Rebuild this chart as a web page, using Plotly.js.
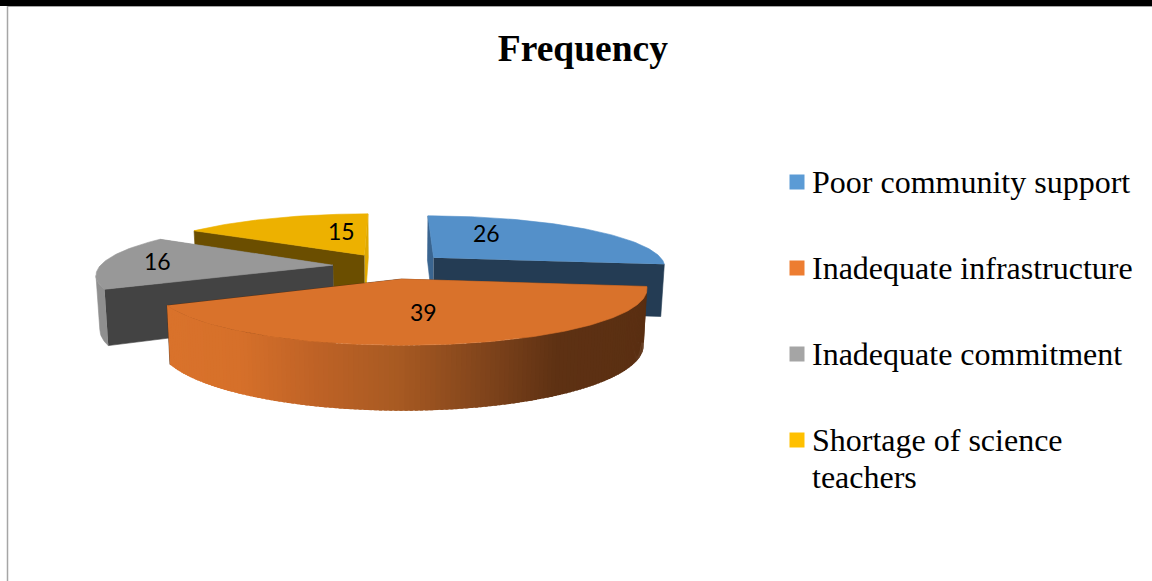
<!DOCTYPE html>
<html>
<head>
<meta charset="utf-8">
<script src="https://cdn.plot.ly/plotly-3.0.1.min.js"></script>
<style>html,body{margin:0;padding:0;background:#fff}#chart{width:1152px;height:581px}</style>
</head>
<body>
<div id="chart"></div>
<script>
// Survey results
const categories = ["Poor community support", "Inadequate infrastructure", "Inadequate commitment", "Shortage of science<br>teachers"];
const values = [26, 39, 16, 15];

// Surface colours per slice
const topColors   = ["#5490c9", "#d9722b", "#989898", "#edb100"];
const startCutColors = ["#3a6590", "#5c3012", "#434343", "#6b4e00"];
const endCutColors   = ["#243c54", "#5c3012", "#8f8f8f", "#e0a900"];
const rimColors   = ["#2f5378", "#d9722b", "#8f8f8f", "#b88a00"];
const swatchColors = ["#5b9bd5", "#ed7d31", "#a5a5a5", "#ffc000"];
// Shading across the front wall of the large slice: [screen x, r, g, b]
const wallShade = [[170,217,114,43],[240,214,112,42],[320,190,98,38],[400,168,90,34],[480,132,70,28],[560,94,49,19],[650,90,47,18]];

// Projection of the tilted, exploded pie onto the page
const CX = 391, CY = 266, R = 233, TILT = 51, DEPTH = 52.5, FOCAL = 6.3, EXPLODE = 0.25, BASE_SHRINK = 0.987;

const total = values.reduce((a, b) => a + b, 0);
const slices = [];
values.reduce((start, v) => {
  const sweep = v / total * 2 * Math.PI, mid = start + sweep / 2;
  slices.push({a0: start, a1: start + sweep, ex: EXPLODE * Math.sin(mid), ez: -EXPLODE * Math.cos(mid)});
  return start + sweep;
}, 0);

function project(sl, angle, r, down) {
  const X = sl.ex + r * Math.sin(angle), Z = sl.ez - r * Math.cos(angle);
  const s = FOCAL / (FOCAL - Z);
  // The lower rim sits slightly farther from the eye, so it narrows towards the centre
  return [CX + R * X * s * (down ? BASE_SHRINK : 1), CY + TILT * Z * s + (down ? DEPTH * s : 0)];
}
function poly(points, color, bare) {
  return {
    type: "scatter", mode: "lines", x: points.map(p => p[0]), y: points.map(p => p[1]),
    fill: "toself", fillcolor: color, line: {color: color, width: bare ? 0 : 0.6},
    hoverinfo: "skip", showlegend: false
  };
}
function arc(sl, a, b, down) {
  const n = Math.max(2, Math.ceil(Math.abs(b - a) / 0.02)), out = [];
  for (let i = 0; i <= n; i++) out.push(project(sl, a + (b - a) * i / n, 1, down));
  return out;
}
// Angle of the extreme screen x on [lo, hi]; sign +1 finds the rightmost point, -1 the leftmost
function extremeAngle(sl, lo, hi, sign) {
  let best = lo, bestX = -Infinity;
  for (let a = lo; a <= hi; a += 0.002) {
    const x = sign * project(sl, a, 1, false)[0];
    if (x > bestX) { bestX = x; best = a; }
  }
  return best;
}
// Part of the outer wall between the silhouette edges, the only part the viewer can see
function visibleRim(sl) {
  const from = sl.a0 < Math.PI ? extremeAngle(sl, sl.a0, Math.min(sl.a1, Math.PI), 1) : sl.a0;
  const to = sl.a1 > Math.PI ? extremeAngle(sl, Math.max(sl.a0, Math.PI), sl.a1, -1) : sl.a1;
  return [from, to];
}
function shadeAt(x) {
  for (let i = 1; i < wallShade.length; i++) {
    if (x <= wallShade[i][0]) {
      const p = wallShade[i - 1], q = wallShade[i], t = Math.max(0, (x - p[0]) / (q[0] - p[0]));
      return "rgb(" + [1, 2, 3].map(k => Math.round(p[k] + (q[k] - p[k]) * t)).join(",") + ")";
    }
  }
  return "rgb(" + wallShade[wallShade.length - 1].slice(1).join(",") + ")";
}

const traces = [];
// Far slices are painted first so nearer ones overlap them
[3, 0, 2, 1].forEach(i => {
  const sl = slices[i];
  const apexT = project(sl, 0, 0, false), apexB = project(sl, 0, 0, true);
  const wall = a => [apexT, project(sl, a, 1, false), project(sl, a, 1, true), apexB];
  // The cut whose outer end lies farther back goes down first
  const startCut = poly(wall(sl.a0), startCutColors[i]), endCut = poly(wall(sl.a1), endCutColors[i]);
  if (Math.cos(sl.a0) > Math.cos(sl.a1)) traces.push(startCut, endCut);
  else traces.push(endCut, startCut);
  // Outer wall
  const [from, to] = visibleRim(sl);
  if (to > from + 0.01) {
    const n = i === 1 ? 140 : 1;
    // Strips overlap the neighbour painted next, which hides the joins
    for (let k = n - 1; k >= 0; k--) {
      const a = from + (to - from) * k / n;
      const b = Math.min(to, from + (to - from) * (k + 1.6) / n);
      const strip = arc(sl, a, b, false).concat(arc(sl, b, a, true));
      const midX = project(sl, from + (to - from) * (k + 0.5) / n, 1, false)[0];
      traces.push(poly(strip, i === 1 ? shadeAt(midX) : rimColors[i], i === 1));
    }
  }
  // Top face
  traces.push(poly([apexT].concat(arc(sl, sl.a0, sl.a1, false)), topColors[i]));
});

// Key swatches
const keyRows = [182, 268, 354, 440];
const KEY_LINE = 37;
traces.push({
  type: "scatter", mode: "markers", x: keyRows.map(() => 797), y: keyRows,
  marker: {symbol: "square", size: 15, color: swatchColors, line: {width: 0}},
  hoverinfo: "skip", showlegend: false
});

const serif = "'Liberation Serif','Times New Roman',serif";
const keyLabels = [];
categories.forEach((c, i) => c.split("<br>").forEach((line, j) => keyLabels.push({
  x: 810, y: keyRows[i] - 0.5 + j * KEY_LINE, xref: "x", yref: "y", xanchor: "left", yanchor: "middle", align: "left",
  text: line, showarrow: false, font: {family: serif, size: 32, color: "#000"}
})));
const valuePlaces = [[486, 233], [423, 312], [157, 261], [341, 231]];
const valueLabels = values.map((v, i) => ({
  x: valuePlaces[i][0], y: valuePlaces[i][1], xref: "x", yref: "y", xanchor: "center", yanchor: "middle",
  text: String(v), showarrow: false, font: {family: "Lato, Carlito, sans-serif", size: 23, color: "#000"}
}));

const layout = {
  width: 1152, height: 581, margin: {l: 0, r: 0, t: 0, b: 0},
  paper_bgcolor: "#fff", plot_bgcolor: "#fff", showlegend: false,
  title: {text: "<b>Frequency</b>", x: 0.506, xanchor: "center", y: 0.917, yanchor: "middle", font: {family: serif, size: 37.5, color: "#000"}},
  xaxis: {range: [0, 1152], visible: false, fixedrange: true},
  yaxis: {range: [581, 0], visible: false, fixedrange: true},
  annotations: keyLabels.concat(valueLabels),
  shapes: [
    {type: "rect", xref: "paper", yref: "paper", x0: 0, x1: 1, y0: 1, y1: 1 - 6 / 581, fillcolor: "#000", line: {width: 0}},
    {type: "line", xref: "x", yref: "y", x0: 7.5, x1: 1152, y0: 6.5, y1: 6.5, line: {color: "#a6a6a6", width: 1}},
    {type: "line", xref: "x", yref: "y", x0: 7.5, x1: 7.5, y0: 6, y1: 581, line: {color: "#a6a6a6", width: 1.5}}
  ]
};
Plotly.newPlot("chart", traces, layout, {displayModeBar: false, staticPlot: true});
</script>
</body>
</html>
